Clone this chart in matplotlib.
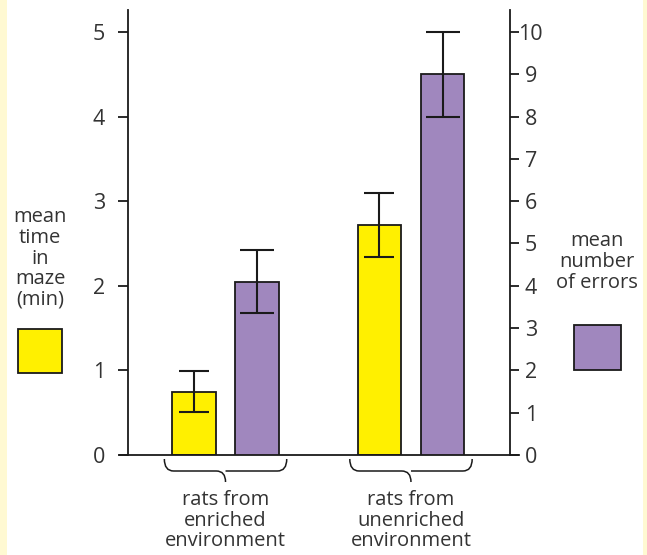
import matplotlib
matplotlib.use("Agg")
import matplotlib.pyplot as plt
from matplotlib.patches import Rectangle, PathPatch
from matplotlib.path import Path
from matplotlib.transforms import blended_transform_factory

plt.rcParams['font.family'] = ['Open Sans', 'DejaVu Sans']

# Data
groups = ["rats from\nenriched\nenvironment", "rats from\nunenriched\nenvironment"]
time_mean = [0.75, 2.72]        # mean time in maze (min), left axis
time_err = [0.24, 0.38]
errors_mean = [4.1, 9.0]        # mean number of errors, right axis
errors_err = [0.75, 1.0]
left_ticks = [0, 1, 2, 3, 4, 5]
right_ticks = list(range(0, 11))

YELLOW = "#FFF000"
PURPLE = "#A087BE"
TEXT = "#333333"
EDGE = "#1a1a1a"
STRIP = "#FFF9D2"

W, H = 647, 555
fig = plt.figure(figsize=(W / 100, H / 100), dpi=100)
fig.patch.set_facecolor("white")

# pale border strips
fig.patches.append(Rectangle((0, 0), 7 / W, 1, transform=fig.transFigure,
                             facecolor=STRIP, edgecolor="none", zorder=0))
fig.patches.append(Rectangle((643 / W, 0), 4 / W, 1, transform=fig.transFigure,
                             facecolor=STRIP, edgecolor="none", zorder=0))

ax_l, ax_r, ax_b, ax_t = 128, 510, 455, 10
ax = fig.add_axes([ax_l / W, 1 - ax_b / H, (ax_r - ax_l) / W, (ax_b - ax_t) / H])
ax.patch.set_alpha(0)
ax2 = ax.twinx()

ytop = 5.26
ax.set_ylim(0, ytop)
ax2.set_ylim(0, 2 * ytop)
ax.set_xlim(-0.526, 1.534)

x = [0, 1]
off = 0.17
bw = 0.235
lw_edge = 1.3

ax.bar([xi - off for xi in x], time_mean, width=bw, color=YELLOW,
       edgecolor=EDGE, linewidth=lw_edge, zorder=2)
ax.errorbar([xi - off for xi in x], time_mean, yerr=time_err, fmt="none",
            ecolor=EDGE, elinewidth=1.5, capsize=11, capthick=1.5, zorder=3)
ax2.bar([xi + off for xi in x], errors_mean, width=bw, color=PURPLE,
        edgecolor=EDGE, linewidth=lw_edge, zorder=2)
ax2.errorbar([xi + off for xi in x], errors_mean, yerr=errors_err, fmt="none",
             ecolor=EDGE, elinewidth=1.5, capsize=12, capthick=1.5, zorder=3)

for a in (ax, ax2):
    for s in ("top", "bottom"):
        a.spines[s].set_visible(False)
    a.set_xticks([])

ax.spines["right"].set_visible(False)
ax2.spines["left"].set_visible(False)
ax.spines["left"].set_linewidth(1.3)
ax2.spines["right"].set_linewidth(1.3)
ax.spines["left"].set_color(EDGE)
ax2.spines["right"].set_color(EDGE)

ax.set_yticks(left_ticks)
ax.tick_params(axis="y", direction="out", length=7, width=1.3, color=EDGE,
               labelsize=15.5, labelcolor=TEXT, pad=14)
for t in ax.get_yticklabels():
    t.set_horizontalalignment("center")

ax2.set_yticks(right_ticks)
ax2.tick_params(axis="y", direction="out", length=6.5, width=1.3, color=EDGE,
                labelsize=15.5, labelcolor=TEXT, pad=8.5)
for t in ax2.get_yticklabels():
    t.set_horizontalalignment("center")

# baseline, extending slightly past both axes
ax.plot([-0.022, 1.024], [0, 0], transform=ax.transAxes, color=EDGE,
        lw=1.3, clip_on=False, zorder=4)

# braces under each group
bt = blended_transform_factory(ax.transData, fig.transFigure)
half = 0.33
y_tip = 1 - 459 / H
y_mid = 1 - 471 / H
y_pt = 1 - 482 / H
r = 0.05
for xc in x:
    x0, x1 = xc - half, xc + half
    verts = [
        (x0, y_tip), (x0, y_mid), (x0 + r, y_mid),
        (xc - r, y_mid),
        (xc, y_mid), (xc, y_pt),
        (xc, y_mid), (xc + r, y_mid),
        (x1 - r, y_mid),
        (x1, y_mid), (x1, y_tip),
    ]
    codes = [Path.MOVETO, Path.CURVE3, Path.CURVE3,
             Path.LINETO,
             Path.CURVE3, Path.CURVE3,
             Path.MOVETO, Path.CURVE3,
             Path.LINETO,
             Path.CURVE3, Path.CURVE3]
    fig.patches.append(PathPatch(Path(verts, codes), transform=bt, facecolor="none",
                                 edgecolor=EDGE, lw=1.1))

for xc, label in zip(x, groups):
    fig.text(xc, 1 - 490 / H, label, transform=bt, ha="center", va="top",
             fontsize=14.5, color=TEXT, linespacing=1.05)

# axis keys
fig.text(40 / W, 1 - 207 / H, "mean\ntime\nin\nmaze\n(min)", ha="center", va="top",
         fontsize=14.5, color=TEXT, linespacing=1.05)
fig.patches.append(Rectangle((18 / W, 1 - 373 / H), 44 / W, 44 / H,
                             transform=fig.transFigure, facecolor=YELLOW,
                             edgecolor=EDGE, lw=1.3))

fig.text(597 / W, 1 - 231 / H, "mean\nnumber\nof errors", ha="center", va="top",
         fontsize=14.5, color=TEXT, linespacing=1.05)
fig.patches.append(Rectangle((574 / W, 1 - 370 / H), 47 / W, 45 / H,
                             transform=fig.transFigure, facecolor=PURPLE,
                             edgecolor=EDGE, lw=1.3))

fig.savefig("out.png", dpi=100)
